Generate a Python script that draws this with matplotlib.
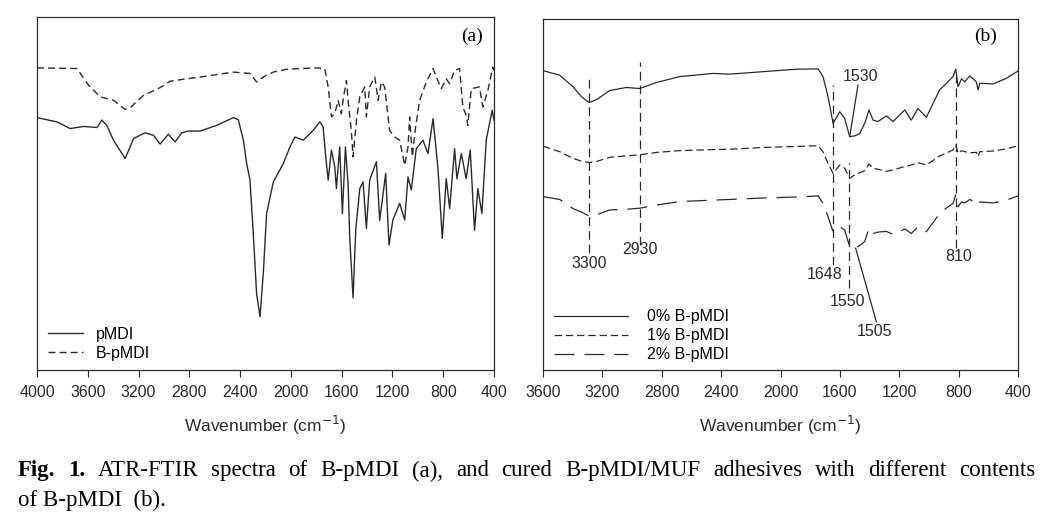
import numpy as np
import matplotlib
matplotlib.use('Agg')
from matplotlib import pyplot as plt

plt.rcParams['font.family'] = ['Liberation Sans', 'DejaVu Sans']

# ---- panel (a): ATR-FTIR of pMDI and B-pMDI (transmittance, a.u.) ----
wn_bpmdi = [4000, 3685, 3594, 3502, 3397, 3305, 3266, 3161, 3030, 2951, 2820, 2715, 2453, 2322,
            2270, 2217, 2138, 2033, 1798, 1733, 1706, 1680, 1654, 1628, 1602, 1589, 1562, 1549,
            1523, 1510, 1483, 1457, 1418, 1405, 1379, 1339, 1313, 1287, 1261, 1222, 1182, 1143,
            1103, 1077, 1064, 1043, 1017, 985, 933, 880, 854, 815, 776, 749, 710, 671, 645, 619,
            606, 579, 514, 488, 448, 409, 400]
t_bpmdi = [85.6, 85.4, 80.7, 77.4, 76.4, 73.8, 74.3, 77.8, 80.0, 81.8, 82.5, 83.0, 84.4, 84.0,
           81.6, 83.0, 84.4, 85.2, 85.6, 85.4, 80.2, 71.7, 72.6, 76.4, 72.6, 76.4, 82.0, 76.4,
           67.5, 60.4, 70.8, 77.4, 80.2, 71.7, 80.2, 83.0, 76.4, 81.6, 80.2, 67.9, 66.0, 65.1,
           58.0, 63.2, 71.7, 60.4, 68.9, 76.4, 81.6, 85.4, 83.0, 79.7, 82.5, 81.1, 84.9, 85.4, 74.5, 72.2,
           69.3, 79.7, 80.2, 74.5, 79.2, 85.8, 84.9]

wn_pmdi = [4000, 3843, 3738, 3633, 3528, 3489, 3450, 3397, 3305, 3239, 3148, 3082, 3030, 2965,
           2912, 2860, 2807, 2715, 2584, 2453, 2414, 2374, 2348, 2322, 2296, 2270, 2243, 2217,
           2191, 2138, 2059, 2007, 1968, 1902, 1824, 1772, 1746, 1725, 1706, 1680, 1654, 1641,
           1615, 1594, 1570, 1549, 1536, 1510, 1489, 1457, 1431, 1405, 1379, 1326, 1300, 1253,
           1227, 1196, 1143, 1103, 1077, 1051, 1012, 959, 920, 880, 841, 807, 776, 749, 710,
           692, 657, 619, 587, 553, 527, 495, 461, 414, 400]
t_pmdi = [71.5, 70.3, 68.4, 69.0, 68.7, 70.8, 69.3, 65.1, 59.9, 65.6, 67.2, 66.5, 64.0, 66.8,
          64.6, 67.2, 67.7, 67.7, 69.3, 71.5, 70.9, 65.1, 58.5, 53.8, 38.7, 21.7, 15.1, 27.4,
          44.3, 53.3, 58.5, 63.2, 66.0, 65.1, 67.9, 70.3, 68.9, 60.4, 53.8, 62.3, 57.5, 51.4,
          63.2, 44.3, 63.2, 52.5, 37.4, 20.4, 39.6, 51.4, 53.3, 40.1, 53.8, 59.0, 42.4, 55.7,
          35.4, 42.5, 47.2, 42.5, 54.7, 51.0, 62.7, 65.1, 61.3, 71.2, 57.1, 37.3, 54.2, 45.8, 62.7,
          54.2, 61.3, 54.2, 62.3, 39.6, 51.4, 44.3, 65.1, 73.6, 70.8]

# ---- panel (b): cured B-pMDI/MUF adhesives ----
wn_b = [3600, 3488, 3398, 3342, 3290, 3241, 3151, 3039, 2949, 2837, 2679, 2455, 2342, 2118,
        1893, 1747, 1714, 1680, 1646, 1601, 1568, 1534, 1500, 1466, 1433, 1404, 1377, 1343,
        1287, 1242, 1163, 1119, 1074, 1018, 928, 894, 838, 820, 804, 781, 759, 725, 681, 669,
        658, 568, 479, 400]
t_0 = [85.3, 84.0, 80.7, 77.9, 76.2, 77.0, 79.6, 80.5, 80.2, 81.9, 83.6, 84.5, 84.3, 85.0,
       85.7, 85.8, 83.6, 77.9, 70.3, 73.6, 71.7, 66.5, 66.7, 67.4, 70.3, 74.1, 71.2, 70.8,
       72.4, 70.8, 74.1, 71.2, 74.5, 72.0, 79.8, 81.2, 83.6, 85.7, 80.7, 83.0, 82.1, 83.8, 82.1, 79.8,
       81.7, 81.5, 83.1, 85.2]
t_1 = [63.8, 62.2, 60.3, 59.5, 59.1, 59.4, 60.6, 61.0, 61.3, 62.0, 62.5, 62.8, 62.9, 63.4,
       63.7, 63.9, 62.2, 58.9, 56.0, 58.4, 57.5, 54.6, 55.6, 56.2, 56.8, 58.7, 57.5, 57.2,
       56.6, 57.0, 58.0, 58.4, 59.1, 58.4, 61.0, 61.6, 62.7, 64.1, 61.7, 62.5, 62.2, 61.9, 62.0, 60.8,
       62.2, 62.4, 63.0, 63.9]
t_2 = [49.4, 48.6, 46.0, 45.0, 43.9, 44.2, 45.6, 45.8, 46.1, 47.0, 48.0, 48.4, 48.6, 49.0,
       49.3, 49.6, 47.5, 43.7, 39.4, 40.8, 39.9, 35.1, 34.7, 35.5, 36.6, 40.4, 38.9, 39.3,
       39.5, 38.6, 40.2, 38.9, 40.8, 39.4, 44.6, 45.8, 47.5, 49.9, 46.5, 47.9, 47.6, 48.6, 47.6, 47.0,
       47.9, 47.6, 48.4, 49.6]

peak_wn = [3290, 2949, 1646, 1539, 815]
peak_top = [84.0, 87.8, 81.2, 58.9, 85.9]
peak_bottom = [33.2, 35.6, 29.9, 23.3, 34.7]
peak_labels = ['3300', '2930', '1648', '1550', '810']
label_x = [3290, 2949, 1700, 1550, 800]
label_y = [30.4, 34.2, 27.3, 19.5, 32.3]

ticks_a = [4000, 3600, 3200, 2800, 2400, 2000, 1600, 1200, 800, 400]
ticks_b = [3600, 3200, 2800, 2400, 2000, 1600, 1200, 800, 400]

caption_1 = ('Fig. 1.', 'ATR-FTIR spectra of B-pMDI (a), and cured B-pMDI/MUF adhesives '
             'with different contents')
caption_2 = 'of B-pMDI  (b).'

ink = '#2a2a2a'

fig = plt.figure(figsize=(10.53, 5.17), dpi=100)
ax1 = fig.add_axes([0.0351, 0.2843, 0.4340, 0.6828])
ax2 = fig.add_axes([0.5157, 0.2843, 0.4511, 0.6789])

ax1.plot(wn_pmdi, t_pmdi, color=ink, lw=1.0, label='pMDI')
ax1.plot(wn_bpmdi, t_bpmdi, color=ink, lw=1.0, dashes=(5, 3), label='B-pMDI')
ax1.set_xlim(4000, 400)
ax1.set_xticks(ticks_a)
ax1.text(0.975, 0.97, '(a)', transform=ax1.transAxes, ha='right', va='top',
         fontsize=14, family='Liberation Serif')
ax1.legend(loc='lower left', frameon=False, fontsize=11.5, handlelength=2.2,
           handletextpad=0.8, borderaxespad=0.3, labelspacing=0.25,
           bbox_to_anchor=(0.0, -0.005))

ax2.plot(wn_b, t_0, color=ink, lw=0.9, label='0% B-pMDI')
ax2.plot(wn_b, t_1, color=ink, lw=0.9, dashes=(6, 3), label='1% B-pMDI')
ax2.plot(wn_b, t_2, color=ink, lw=0.9, dashes=(16, 8), label='2% B-pMDI')
for w, y0, y1 in zip(peak_wn, peak_bottom, peak_top):
    ax2.plot([w, w], [y0, y1], color=ink, lw=0.9, dashes=(7, 4))
for w, yy, s in zip(label_x, label_y, peak_labels):
    ax2.text(w, yy, s, ha='center', va='center', fontsize=11.5, color=ink)
# leader-line labels
ax2.plot([1478, 1534], [81.2, 66.5], color=ink, lw=0.9)
ax2.text(1460, 83.6, '1530', ha='center', va='center', fontsize=11.5, color=ink)
ax2.plot([1355, 1494], [13.8, 34.7], color=ink, lw=0.9)
ax2.text(1366, 10.9, '1505', ha='center', va='center', fontsize=11.5, color=ink)
ax2.set_xlim(3600, 400)
ax2.set_xticks(ticks_b)
ax2.text(0.955, 0.975, '(b)', transform=ax2.transAxes, ha='right', va='top',
         fontsize=14, family='Liberation Serif')
ax2.legend(loc='lower left', frameon=False, fontsize=11.5, handlelength=4.6,
           handletextpad=1.2, borderaxespad=0.3, labelspacing=0.25,
           bbox_to_anchor=(0.0, -0.01))

for ax in (ax1, ax2):
    ax.set_ylim(0, 100)
    ax.set_yticks([])
    ax.tick_params(axis='x', direction='out', length=5, width=0.8, labelsize=11.5,
                   colors=ink, pad=6)
    for sp in ax.spines.values():
        sp.set_color(ink)
        sp.set_linewidth(0.9)
    ax.set_xlabel('Wavenumber (cm$^{-1}$)', fontsize=12.5, color=ink, labelpad=10)

# caption, first line justified between x=18 px and x=1035 px
renderer = fig.canvas.get_renderer()
x_left, x_right = 18 / 1053, 1035 / 1053
cap_fs = 16.5
words = [(w, 'bold') for w in caption_1[0].split()] + [(w, 'normal') for w in caption_1[1].split()]
items = []
for w, wt in words:
    t = fig.text(0, 0.089, w, fontsize=cap_fs, weight=wt, family='Liberation Serif',
                 va='center')
    items.append(t)
widths = [t.get_window_extent(renderer).width / fig.bbox.width for t in items]
gap = (x_right - x_left - sum(widths)) / (len(items) - 1)
x = x_left
for t, wd in zip(items, widths):
    t.set_x(x)
    x += wd + gap
fig.text(x_left, 0.033, caption_2, fontsize=cap_fs, family='Liberation Serif', va='center')

fig.savefig('out.png', dpi=100)
